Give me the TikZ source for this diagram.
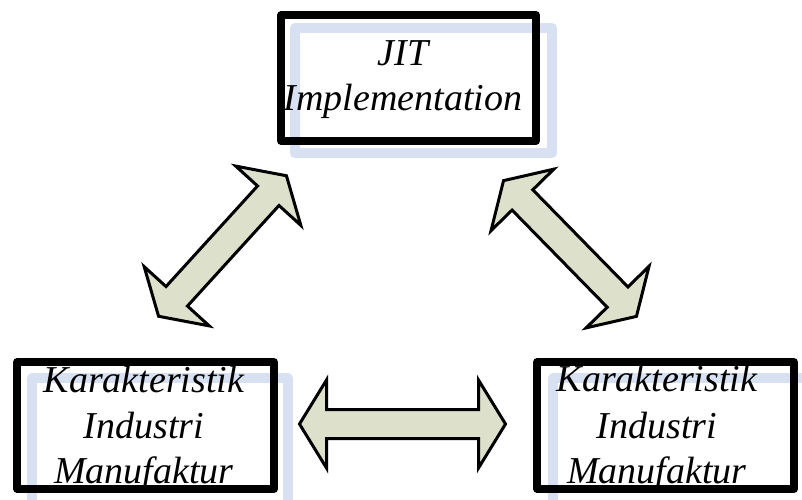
\documentclass[tikz,border=0pt]{standalone}
\usepackage{fontspec}
\setmainfont{Liberation Serif}
\definecolor{lightframe}{RGB}{216,225,241}
\definecolor{arrowfill}{RGB}{221,225,204}
\tikzset{
  lightbox/.style={draw=lightframe, line width=10pt, line join=round, inner sep=0pt},
  blackbox/.style={draw=black, line width=7.5pt, line join=round, inner sep=0pt},
  lbl/.style={anchor=base, inner sep=0pt, font=\fontsize{38}{45}\selectfont\itshape},
  blockarrow/.style={draw=black, fill=arrowfill, line width=3pt, line join=miter}
}
\newcommand{\dblarrowshape}[3]{%
  \begin{scope}[shift={#1}, rotate=#2]
    \draw[blockarrow] ({-#3},0) -- ({-#3+27},-44) -- ({-#3+27},-14.5) -- ({#3-27},-14.5)
      -- ({#3-27},-44) -- ({#3},0) -- ({#3-27},44) -- ({#3-27},14.5) -- ({-#3+27},14.5)
      -- ({-#3+27},44) -- cycle;
  \end{scope}}
\begin{document}
\begin{tikzpicture}[x=1pt,y=-1pt]
\useasboundingbox (0,0) rectangle (802,499);
% light back frames
\node[lightbox, minimum width=257pt, minimum height=125pt] (ltop) at (423.5,90.5) {};
\node[lightbox, minimum width=256pt, minimum height=130pt] (lleft) at (160,443) {};
\node[lightbox, minimum width=256pt, minimum height=130pt] (lright) at (681,443) {};
% texts
\node[lbl] (jit) at (403,65) {JIT};
\node[lbl] (impl) at (403,110) {Implementation};
\node[lbl] (lk) at (144,392) {Karakteristik};
\node[lbl] (li) at (144,438) {Industri};
\node[lbl] (lm) at (144,483) {Manufaktur};
\node[lbl] (rk) at (657,391) {Karakteristik};
\node[lbl] (ri) at (657,438) {Industri};
\node[lbl] (rm) at (657,483) {Manufaktur};
% black frames
\node[blackbox, minimum width=255pt, minimum height=126pt] (top) at (408.5,78) {};
\node[blackbox, minimum width=257pt, minimum height=127pt] (left) at (145.5,425.5) {};
\node[blackbox, minimum width=257pt, minimum height=127pt] (right) at (665.5,425.5) {};
% block arrows
\dblarrowshape{(222.5,246)}{47.7}{95}
\dblarrowshape{(570,248.5)}{-45.6}{95}
\dblarrowshape{(402.5,424)}{0}{103}
\end{tikzpicture}
\end{document}
